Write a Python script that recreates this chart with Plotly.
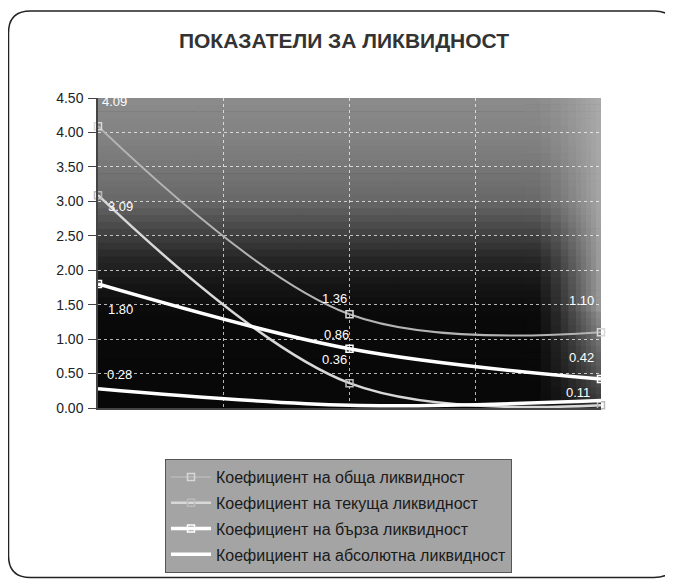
import plotly.graph_objects as go

# ---- data ----
categories = ["", "", ""]
obshta = [4.09, 1.36, 1.10]
tekushta = [3.09, 0.36, 0.04]
barza = [1.80, 0.86, 0.42]
absolutna = [0.28, 0.04, 0.11]
series_names = [
    "Коефициент на обща ликвидност",
    "Коефициент на текуща ликвидност",
    "Коефициент на бърза ликвидност",
    "Коефициент на абсолютна ликвидност",
]
y_ticks = [0.0, 0.5, 1.0, 1.5, 2.0, 2.5, 3.0, 3.5, 4.0, 4.5]
title_text = "ПОКАЗАТЕЛИ ЗА ЛИКВИДНОСТ"

x = list(range(len(categories)))

# page body has an 8px margin -> figure drawn at (8,8)
OFF = 8
W, H = 673 - OFF, 579 - OFF
ML, MT = 98 - OFF, 98 - OFF
PW, PH = 503, 310
MR, MB = W - ML - PW, H - MT - PH


def px(p):  # screen px -> paper x
    return (p - OFF - ML) / PW


def py(p):  # screen px -> paper y
    return (H - MB - (p - OFF)) / PH


fig = go.Figure()

# ---- gradient plot background (decoration) ----
shapes = []
NR = 45
col_edges = [0, 0.2, 0.4, 0.6, 0.75, 0.85, 0.88, 0.9, 0.92, 0.935, 0.95, 0.96, 0.97, 0.98, 0.99, 1.0]


def shade(xf, yf):
    pts = [(0.0, 8), (0.30, 10), (0.40, 22), (0.48, 38), (0.56, 65), (0.67, 105), (0.85, 128), (1.0, 140)]
    v = pts[-1][1]
    for (a, va), (b, vb) in zip(pts[:-1], pts[1:]):
        if a <= yf <= b:
            v = va + (vb - va) * (yf - a) / (b - a)
            break
    if xf > 0.86:
        k = ((xf - 0.86) / 0.14) ** 1.5
        if yf > 0.3:
            target = 175
        else:
            target = 60 + 100 * yf / 0.3
        k = k * 0.9
        v = v * (1 - k) + target * k
    return int(max(0, min(225, v)))


for i in range(NR):
    y0 = i / NR
    y1 = (i + 1) / NR
    for x0, x1 in zip(col_edges[:-1], col_edges[1:]):
        c = shade((x0 + x1) / 2, (y0 + y1) / 2)
        shapes.append(dict(type="rect", xref="x domain", yref="y domain",
                           x0=x0, x1=min(1, x1 + 0.002), y0=y0, y1=min(1, y1 + 0.002),
                           fillcolor=f"rgb({c},{c},{c})", line=dict(width=0),
                           layer="below"))

# ---- outer rounded border (screen coords) ----
bx0, bx1, by0, by1, r = 8.5, 676, 11, 577.5, 22
path = (f"M {px(bx0 + r)},{py(by0)} L {px(bx1 - r)},{py(by0)} "
        f"Q {px(bx1)},{py(by0)} {px(bx1)},{py(by0 + r)} "
        f"L {px(bx1)},{py(by1 - r)} Q {px(bx1)},{py(by1)} {px(bx1 - r)},{py(by1)} "
        f"L {px(bx0 + r)},{py(by1)} Q {px(bx0)},{py(by1)} {px(bx0)},{py(by1 - r)} "
        f"L {px(bx0)},{py(by0 + r)} Q {px(bx0)},{py(by0)} {px(bx0 + r)},{py(by0)} Z")
shapes.append(dict(type="path", xref="paper", yref="paper", path=path,
                   line=dict(color="#222222", width=1.5), layer="above"))

fig.add_trace(go.Scatter(
    x=x, y=obshta, name=series_names[0], mode="lines+markers",
    line=dict(color="#b4b4b4", width=2, shape="spline", smoothing=1),
    marker=dict(symbol="square-open", size=7, color="#d8d8d8", line=dict(width=1.5)),
    legendgroup="a", cliponaxis=False))
fig.add_trace(go.Scatter(
    x=x, y=tekushta, name=series_names[1], mode="lines+markers",
    line=dict(color="#d8d8d8", width=2.5, shape="spline", smoothing=1),
    marker=dict(symbol="square-open", size=7, color="#bbbbbb", line=dict(width=1.5)),
    legendgroup="b", cliponaxis=False))
fig.add_trace(go.Scatter(
    x=x, y=barza, name=series_names[2], mode="lines+markers",
    line=dict(color="white", width=3.5, shape="spline", smoothing=1),
    marker=dict(symbol="square-open", size=7, color="white", line=dict(width=1.5)),
    legendgroup="c", cliponaxis=False))
fig.add_trace(go.Scatter(
    x=x, y=absolutna, name=series_names[3], mode="lines",
    line=dict(color="white", width=3.5, shape="spline", smoothing=1),
    legendgroup="d", cliponaxis=False))

# ---- data labels (offsets in px from the point) ----
label_spec = [
    (obshta, [(16, 25), (-15, 16), (-20, 32)]),
    (tekushta, [(22, -11), (-15, 24), None]),
    (barza, [(22, -25), (-13, 14), (-20, 22)]),
    (absolutna, [(21, 14), None, (-23, 8)]),
]
annotations = []
for vals, offs in label_spec:
    for xi, (v, o) in enumerate(zip(vals, offs)):
        if o is None:
            continue
        annotations.append(dict(x=x[xi], y=v, xref="x", yref="y", text=f"{v:.2f}",
                                showarrow=False, xshift=o[0], yshift=o[1],
                                font=dict(family="Liberation Sans, Arial", size=13, color="white")))

fig.update_layout(
    width=W, height=H,
    margin=dict(l=ML, r=MR, t=MT, b=MB, autoexpand=False),
    paper_bgcolor="white", plot_bgcolor="black",
    shapes=shapes,
    annotations=annotations,
    title=dict(text=f"<b>{title_text}</b>", x=px(344), xanchor="center",
               y=1 - (41 - OFF) / H, yanchor="middle", xref="paper",
               font=dict(family="Liberation Sans, Arial", size=21, color="#333333")),
    showlegend=True,
    legend=dict(x=px(165), y=py(459), xanchor="left", yanchor="top",
                bgcolor="#a4a4a4", bordercolor="#555555", borderwidth=1,
                font=dict(family="Liberation Sans, Arial", size=16, color="#1a1a1a"),
                tracegroupgap=2, itemwidth=40),
    xaxis=dict(range=[0, 2], tickvals=[0, 0.5, 1, 1.5, 2], showticklabels=False,
               showgrid=True, gridcolor="rgba(255,255,255,0.7)", griddash="dot", gridwidth=1,
               showline=True, linecolor="#444444", linewidth=1.5,
               zeroline=False, ticks="", fixedrange=True),
    yaxis=dict(range=[0, 4.5], tickvals=y_ticks, tickformat=".2f",
               showgrid=True, gridcolor="rgba(255,255,255,0.7)", griddash="dot", gridwidth=1,
               showline=True, linecolor="#444444", linewidth=1.5,
               ticks="outside", ticklen=8, tickcolor="#444444",
               zeroline=False, ticklabelstandoff=2,
               tickfont=dict(family="Liberation Sans, Arial", size=14, color="#222222")),
)

fig.write_html("out.html")
